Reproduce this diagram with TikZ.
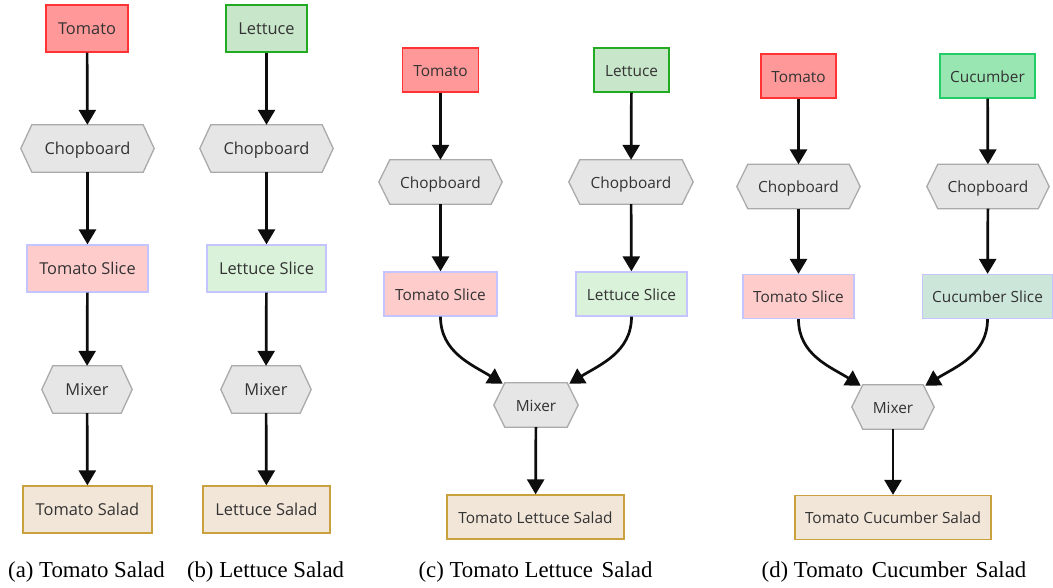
\documentclass[tikz,border=0pt]{standalone}
\usepackage{fontspec}
\setmainfont{Liberation Serif}
\newfontfamily\nodefont{Open Sans}
\usetikzlibrary{arrows.meta,backgrounds}
\definecolor{txt}{HTML}{333333}
\definecolor{tomF}{HTML}{FF9999}\definecolor{tomD}{HTML}{FF3333}
\definecolor{letF}{HTML}{C8E6C9}\definecolor{letD}{HTML}{22AA22}
\definecolor{cucF}{HTML}{99E6B3}\definecolor{cucD}{HTML}{22CC66}
\definecolor{tsF}{HTML}{FFCCCC}\definecolor{lsF}{HTML}{D9F2D9}
\definecolor{csF}{HTML}{CCE6D9}\definecolor{slD}{HTML}{C4C4FF}
\definecolor{hexF}{HTML}{E6E6E6}\definecolor{hexD}{HTML}{AAAAAA}
\definecolor{salF}{HTML}{F2E6D9}\definecolor{salD}{HTML}{C9A23F}
\newcommand{\hexbg}[1]{%
  \filldraw[fill=hexF,draw=hexD,line width=1.3pt]
    (#1.west) -- ([xshift=11pt]#1.north west) -- ([xshift=-11pt]#1.north east)
    -- (#1.east) -- ([xshift=-11pt]#1.south east) -- ([xshift=11pt]#1.south west) -- cycle;}
\tikzset{
  nd/.style={inner sep=0pt,text=txt,text height=12.4pt,text depth=0pt,font=\nodefont\fontsize{16.4}{19}\selectfont},
  ndc/.style={nd,text height=12.6pt,font=\nodefont\fontsize{15.4}{18}\selectfont},
  boxed/.style={draw,line width=1.3pt},
  tombox/.style={boxed,fill=tomF,draw=tomD},
  letbox/.style={boxed,fill=letF,draw=letD},
  cucbox/.style={boxed,fill=cucF,draw=cucD},
  tsl/.style={boxed,fill=tsF,draw=slD},
  lsl/.style={boxed,fill=lsF,draw=slD},
  csl/.style={boxed,fill=csF,draw=slD},
  salbox/.style={boxed,fill=salF,draw=salD},
  hexa/.style={},
  arr/.style={-{Triangle[width=17pt,length=15pt]},line width=2.7pt,draw=black!95},
  captxt/.style={anchor=base,inner sep=0pt,font=\fontsize{22.8}{26}\selectfont}
}
\begin{document}
\begin{tikzpicture}[x=1pt,y=-1pt]
\useasboundingbox (0,0) rectangle (1053,588);
% (a)
\node[nd,tombox,minimum width=82,minimum height=47] (ta) at (87,28.5) {Tomato};
\node[nd,hexa,minimum width=133,minimum height=47] (ca) at (87.5,148.5) {Chopboard};
\node[nd,tsl,minimum width=121,minimum height=47] (sa) at (87.5,268.5) {Tomato Slice};
\node[nd,hexa,minimum width=90,minimum height=47] (ma) at (87,389.5) {Mixer};
\node[nd,salbox,minimum width=129,minimum height=47] (ra) at (87.5,509.5) {Tomato Salad};
% (b)
\node[nd,letbox,minimum width=81,minimum height=47] (lb) at (266.5,28.5) {Lettuce};
\node[nd,hexa,minimum width=133,minimum height=47] (cb) at (266.5,148.5) {Chopboard};
\node[nd,lsl,minimum width=119,minimum height=47] (sb) at (266.5,268.5) {Lettuce Slice};
\node[nd,hexa,minimum width=90,minimum height=47] (mb) at (266,389.5) {Mixer};
\node[nd,salbox,minimum width=127,minimum height=47] (rb) at (266.5,509.5) {Lettuce Salad};
% (c)
\node[ndc,tombox,minimum width=76,minimum height=44] (tc) at (440.5,70) {Tomato};
\node[ndc,hexa,minimum width=123,minimum height=44] (cc1) at (440.5,182) {Chopboard};
\node[ndc,tsl,minimum width=113,minimum height=44] (sc1) at (440.5,294) {Tomato Slice};
\node[ndc,letbox,minimum width=75,minimum height=44] (lc) at (631.5,70) {Lettuce};
\node[ndc,hexa,minimum width=124,minimum height=44] (cc2) at (631,182) {Chopboard};
\node[ndc,lsl,minimum width=111,minimum height=44] (sc2) at (631.5,294) {Lettuce Slice};
\node[ndc,hexa,minimum width=84,minimum height=44] (mc) at (536,405) {Mixer};
\node[ndc,salbox,minimum width=177,minimum height=44] (rc) at (535.5,517) {Tomato Lettuce Salad};
% (d)
\node[ndc,tombox,minimum width=75,minimum height=44] (td) at (798.5,76) {Tomato};
\node[ndc,hexa,minimum width=123,minimum height=44] (cd1) at (798.5,186.5) {Chopboard};
\node[ndc,tsl,minimum width=111,minimum height=44] (sd1) at (798.5,296.5) {Tomato Slice};
\node[ndc,cucbox,minimum width=95,minimum height=44] (ud) at (987.5,76) {Cucumber};
\node[ndc,hexa,minimum width=122,minimum height=44] (cd2) at (988,186.5) {Chopboard};
\node[ndc,csl,minimum width=130,minimum height=44] (sd2) at (987.5,296.5) {Cucumber Slice};
\node[ndc,hexa,minimum width=82,minimum height=44] (md) at (893,407) {Mixer};
\node[ndc,salbox,minimum width=196,minimum height=44] (rd) at (893,517.5) {Tomato Cucumber Salad};
\begin{scope}[on background layer]
\hexbg{ca}\hexbg{ma}\hexbg{cb}\hexbg{mb}\hexbg{cc1}\hexbg{cc2}\hexbg{mc}\hexbg{cd1}\hexbg{cd2}\hexbg{md}
\end{scope}
% coordinates for mixer corners
\coordinate (mcl) at ([xshift=9pt,yshift=-1pt]mc.north west);
\coordinate (mcr) at ([xshift=-9pt,yshift=-1pt]mc.north east);
\coordinate (mdl) at ([xshift=9pt,yshift=-1pt]md.north west);
\coordinate (mdr) at ([xshift=-9pt,yshift=-1pt]md.north east);
% edges
\draw[arr] (ta) -- (ca); \draw[arr] (ca) -- (sa); \draw[arr] (sa) -- (ma); \draw[arr] (ma) -- (ra);
\draw[arr] (lb) -- (cb); \draw[arr] (cb) -- (sb); \draw[arr] (sb) -- (mb); \draw[arr] (mb) -- (rb);
\draw[arr] (tc) -- (cc1); \draw[arr] (cc1) -- (sc1);
\draw[arr] (lc) -- (cc2); \draw[arr] (cc2) -- (sc2);
\draw[arr] (sc1.south) to[out=-90,in=148] (mcl);
\draw[arr] (sc2.south) to[out=-90,in=32] (mcr);
\draw[arr] (mc) -- (rc);
\draw[arr] (td) -- (cd1); \draw[arr] (cd1) -- (sd1);
\draw[arr] (ud) -- (cd2); \draw[arr] (cd2) -- (sd2);
\draw[arr] (sd1.south) to[out=-90,in=148] (mdl);
\draw[arr] (sd2.south) to[out=-90,in=32] (mdr);
\draw[arr] (md) -- (rd);
% captions
\node[captxt] (capa) at (86.5,577) {(a) Tomato Salad};
\node[captxt] (capb) at (265.5,577) {(b) Lettuce Salad};
\node[captxt] (capc) at (535.5,577) {(c) Tomato Lettuce\hspace{3pt} Salad};
\node[captxt] (capd) at (894,577) {(d) Tomato\hspace{3pt} Cucumber\hspace{3pt} Salad};
\end{tikzpicture}
\end{document}
